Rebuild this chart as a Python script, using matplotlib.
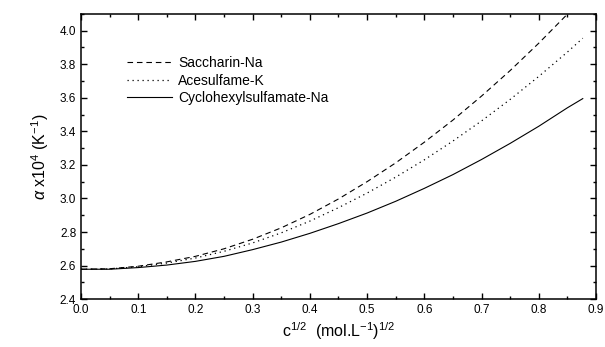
import matplotlib
matplotlib.use('Agg')
import matplotlib.pyplot as plt
from matplotlib.ticker import MultipleLocator

plt.rcParams['font.family'] = ['Liberation Sans', 'DejaVu Sans']
plt.rcParams['mathtext.fontset'] = 'custom'
plt.rcParams['mathtext.rm'] = 'Liberation Sans'
plt.rcParams['mathtext.it'] = 'Liberation Sans:italic'

# values
c_half = [0.0, 0.05, 0.1, 0.15, 0.2, 0.25, 0.3, 0.35, 0.4, 0.45, 0.5,
          0.55, 0.6, 0.65, 0.7, 0.75, 0.8, 0.85, 0.877]
saccharin = [2.578, 2.581, 2.596, 2.622, 2.655, 2.700, 2.757, 2.825, 2.905, 2.997,
             3.100, 3.212, 3.335, 3.467, 3.610, 3.762, 3.925, 4.098, 4.195]
acesulfame = [2.578, 2.580, 2.593, 2.615, 2.645, 2.685, 2.735, 2.795, 2.865, 2.945,
              3.032, 3.127, 3.230, 3.342, 3.462, 3.590, 3.727, 3.872, 3.955]
cyclamate = [2.578, 2.578, 2.588, 2.603, 2.625, 2.655, 2.695, 2.740, 2.792, 2.850,
             2.913, 2.983, 3.060, 3.142, 3.232, 3.328, 3.430, 3.540, 3.595]
labels = ['Saccharin-Na', 'Acesulfame-K', 'Cyclohexylsulfamate-Na']

fig = plt.figure(figsize=(6.05, 3.47), dpi=100)
ax = fig.add_axes([0.134, 0.138, 0.851, 0.822])

ax.plot(c_half, saccharin, color='black', lw=0.8, dashes=(5, 3.5), label=labels[0])
ax.plot(c_half, acesulfame, color='black', lw=0.9, dashes=(1, 3), label=labels[1])
ax.plot(c_half, cyclamate, color='black', lw=0.8, label=labels[2])

ax.set_xlim(0.0, 0.9)
ax.set_ylim(2.4, 4.1)
ax.xaxis.set_major_locator(MultipleLocator(0.1))
ax.xaxis.set_minor_locator(MultipleLocator(0.05))
ax.yaxis.set_major_locator(MultipleLocator(0.2))
ax.yaxis.set_minor_locator(MultipleLocator(0.1))
ax.xaxis.set_major_formatter(plt.FormatStrFormatter('%.1f'))
ax.yaxis.set_major_formatter(plt.FormatStrFormatter('%.1f'))
ax.tick_params(which='both', direction='in', top=True, right=True, labelsize=8.5, width=1)
ax.tick_params(which='major', length=4)
ax.tick_params(which='minor', length=2.5)
for s in ax.spines.values():
    s.set_linewidth(1.1)

ax.set_xlabel(r'c$^{1/2}$  (mol.L$^{-1}$)$^{1/2}$', fontsize=11.5, labelpad=3)
ax.set_ylabel(r'$\alpha$ x10$^4$ (K$^{-1}$)', fontsize=11.5, labelpad=6)

ax.legend(loc='upper left', bbox_to_anchor=(0.064, 0.895), frameon=False, fontsize=10,
          handlelength=3.3, handletextpad=0.4, labelspacing=0.25)

fig.savefig('out.png', dpi=100)
